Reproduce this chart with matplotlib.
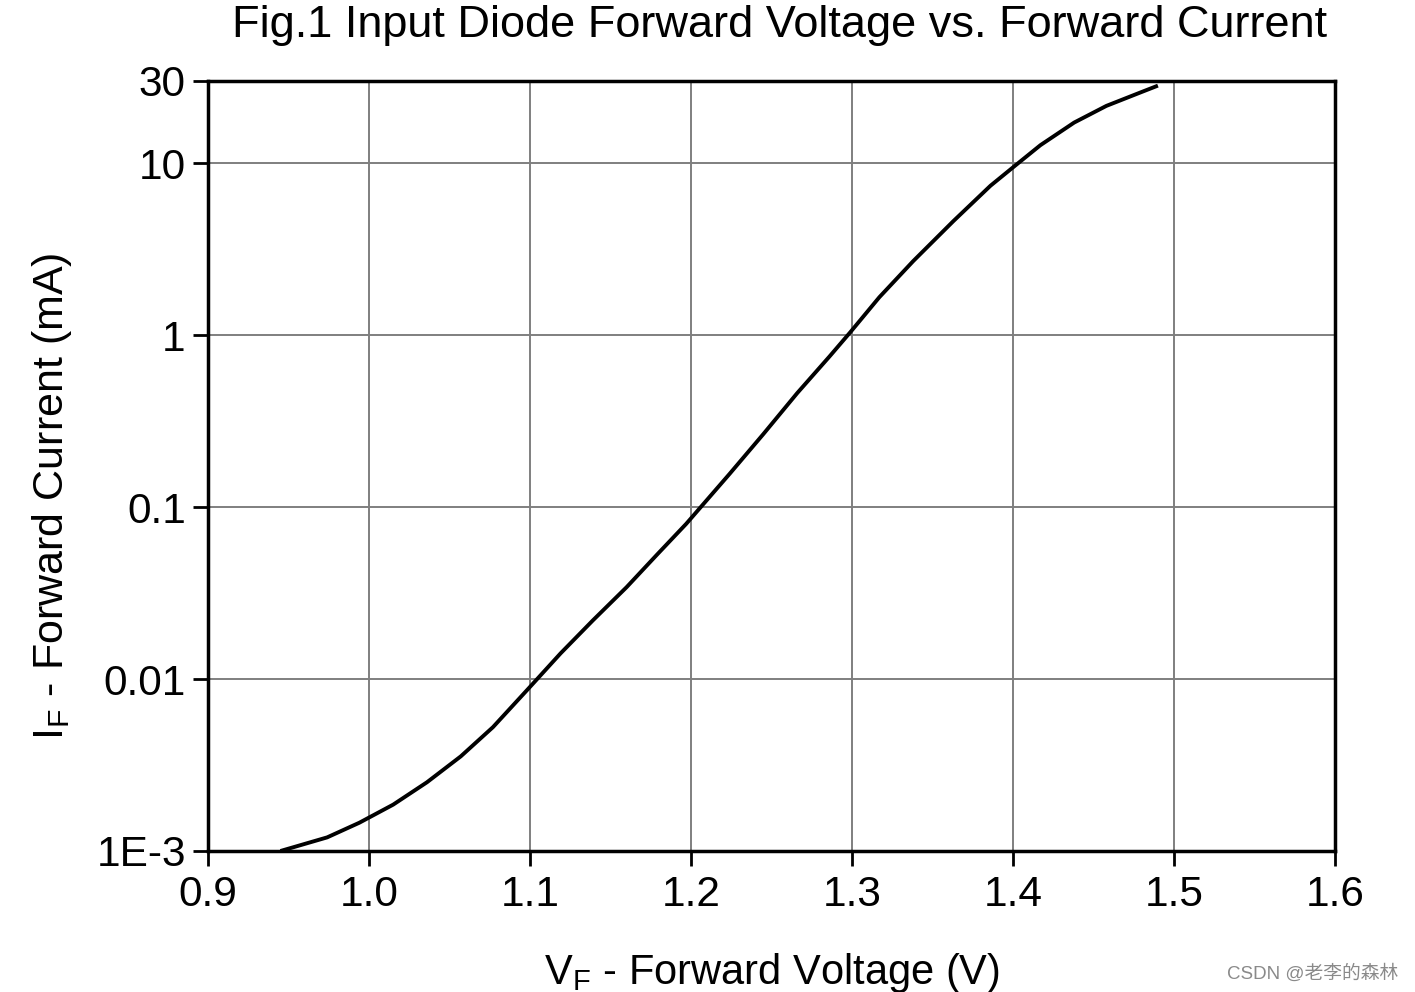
import matplotlib
matplotlib.use('Agg')
from matplotlib import pyplot as plt

# forward voltage (V) vs forward current (mA)
vf = [0.945, 0.974, 0.994, 1.015, 1.036, 1.057, 1.077, 1.1, 1.119, 1.139,
      1.16, 1.179, 1.197, 1.224, 1.245, 1.266, 1.286, 1.299, 1.317, 1.338,
      1.363, 1.386, 1.4, 1.417, 1.438, 1.458, 1.479, 1.49]
i_f = [0.001, 0.0012, 0.00146, 0.00186, 0.00251, 0.00355, 0.00525, 0.009, 0.0141, 0.0219,
       0.0342, 0.053, 0.0798, 0.156, 0.266, 0.46, 0.75, 1.04, 1.66, 2.69,
       4.6, 7.38, 9.44, 12.7, 17.2, 21.5, 25.7, 28.2]

x_ticks = [0.9, 1.0, 1.1, 1.2, 1.3, 1.4, 1.5, 1.6]
x_labels = ['0.9', '1.0', '1.1', '1.2', '1.3', '1.4', '1.5', '1.6']
y_ticks = [1e-3, 0.01, 0.1, 1, 10, 30]
y_labels = ['1E-3', '0.01', '0.1', '1', '10', '30']

plt.rcParams['font.family'] = ['Liberation Sans', 'DejaVu Sans']
plt.rcParams['mathtext.fontset'] = 'custom'
plt.rcParams['mathtext.rm'] = 'Liberation Sans'

fig = plt.figure(figsize=(14.15, 9.92), dpi=100)
ax = fig.add_axes([208/1415, 1 - 851/992, (1335 - 208)/1415, (851 - 81)/992])

ax.plot(vf, i_f, color='black', lw=2.8, solid_capstyle='butt',
        solid_joinstyle='round', zorder=3)
ax.set_yscale('log')
ax.set_xlim(0.9, 1.6)
ax.set_ylim(1e-3, 30)

ax.set_xticks(x_ticks)
ax.set_xticklabels(x_labels)
ax.set_yticks(y_ticks)
ax.set_yticklabels(y_labels)
ax.minorticks_off()
ax.tick_params(direction='out', length=11, width=2, labelsize=30.5)
ax.tick_params(axis='x', pad=6)
ax.tick_params(axis='y', pad=5)

ax.grid(True, color='#7f7f7f', lw=1.4)
for s in ax.spines.values():
    s.set_linewidth(2.5)

ax.set_xlabel(r'V$_{\rm F}$ - Forward Voltage (V)', fontsize=30, labelpad=26)
ax.set_ylabel(r'I$_{\rm F}$ - Forward Current (mA)', fontsize=31)
ax.yaxis.set_label_coords(-0.119, 0.461)
fig.text(0.551, 0.974, 'Fig.1 Input Diode Forward Voltage vs. Forward Current',
         ha='center', va='center', fontsize=32.5)

fig.text(0.988, 0.019, 'CSDN @老李的森林', ha='right', va='center', fontsize=13.5,
         color='#8a8a8a', family=['Liberation Sans', 'Noto Sans CJK SC'])

plt.savefig('out.png', dpi=100)
